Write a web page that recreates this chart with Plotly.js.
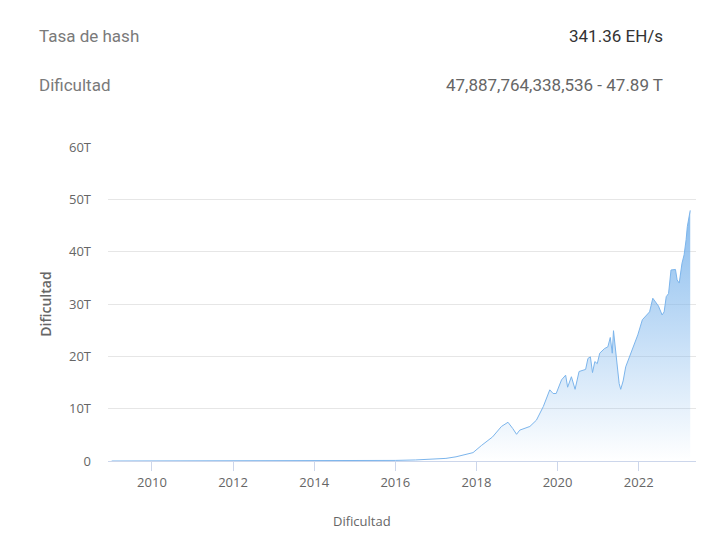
<!DOCTYPE html>
<html>
<head>
<meta charset="utf-8">
<script src="https://cdn.plot.ly/plotly-3.0.1.min.js"></script>
<style>
  html, body { margin: 0; padding: 0; background: #fff; }
  #chart { width: 722px; height: 550px; }
</style>
</head>
<body>
<div id="chart"></div>
<script>
// Bitcoin mining difficulty (trillions)
const dates = [
    '2009-01-03', '2011-01-01', '2012-01-01', '2013-06-01', '2014-01-01',
    '2014-07-01', '2015-01-01', '2015-07-01', '2016-01-01', '2016-07-01',
    '2017-01-01', '2017-04-01', '2017-07-01', '2017-10-01', '2017-12-01',
    '2018-02-17', '2018-05-26', '2018-08-14', '2018-10-12', '2018-11-24',
    '2018-12-28', '2019-01-26', '2019-04-27', '2019-06-25', '2019-08-26',
    '2019-10-23', '2019-11-22', '2019-12-20', '2020-02-06', '2020-03-14',
    '2020-04-01', '2020-05-05', '2020-06-07', '2020-07-13', '2020-08-19',
    '2020-09-10', '2020-10-01', '2020-10-23', '2020-11-11', '2020-12-02',
    '2020-12-24', '2021-01-15', '2021-02-28', '2021-03-29', '2021-04-20',
    '2021-05-08', '2021-05-19', '2021-06-13', '2021-07-09', '2021-07-23',
    '2021-08-14', '2021-09-06', '2021-10-12', '2021-11-25', '2021-12-24',
    '2022-02-03', '2022-03-07', '2022-04-09', '2022-05-08', '2022-06-06',
    '2022-06-28', '2022-07-31', '2022-08-18', '2022-09-06', '2022-09-27',
    '2022-10-19', '2022-11-28', '2022-12-13', '2023-01-01', '2023-01-26',
    '2023-02-14', '2023-03-04', '2023-03-15', '2023-04-10'
];
const difficultyT = [
    0, 0.00001, 0.000001, 0.00002, 0.0014,
    0.017, 0.04, 0.05, 0.11, 0.2,
    0.33, 0.5, 0.8, 1.2, 1.6,
    3.0, 4.6, 6.6, 7.4, 6.2,
    5.1, 5.9, 6.6, 7.8, 10.4,
    13.6, 12.9, 12.9, 15.5, 16.4,
    14.1, 16.1, 13.7, 17.1, 17.4,
    17.5, 19.6, 19.9, 16.9, 19.0,
    18.6, 20.6, 21.5, 21.8, 23.6,
    20.6, 24.9, 19.9, 14.8, 13.7,
    15.3, 18.0, 19.9, 22.5, 24.1,
    27.0, 27.7, 28.5, 31.1, 30.2,
    29.6, 27.9, 28.5, 31.4, 32.0,
    36.5, 36.6, 34.6, 34.0, 37.8,
    39.4, 42.3, 44.8, 47.89
];
const yTickVals = [0, 10, 20, 30, 40, 50, 60];
const yTickText = ['0', '10T', '20T', '30T', '40T', '50T', '60T'];
const xTickVals = ['2010-01-01', '2012-01-01', '2014-01-01', '2016-01-01',
                   '2018-01-01', '2020-01-01', '2022-01-01'];
const xTickText = ['2010', '2012', '2014', '2016', '2018', '2020', '2022'];

const headerLabels = ['Tasa de hash', 'Dificultad'];
const headerValues = ['341.36 EH/s', '47,887,764,338,536 - 47.89 T'];

const BLUE = '#7cb5ec';

const data = [{
    type: 'scatter',
    mode: 'lines',
    x: dates,
    y: difficultyT,
    line: { color: BLUE, width: 1 },
    fill: 'tozeroy',
    fillgradient: {
        type: 'vertical',
        start: 0,
        stop: 48,
        colorscale: [
            [0, 'rgba(124,181,236,0.0)'],
            [1, 'rgba(124,181,236,0.9)']
        ]
    },
    hoverinfo: 'x+y'
}];

// header rows drawn as annotations above the plot area
const annotations = [];
const rowY = [1.3535, 1.197];
headerLabels.forEach(function(label, i) {
    annotations.push({
        xref: 'paper', yref: 'paper', x: -0.12, y: rowY[i],
        xanchor: 'left', yanchor: 'middle', showarrow: false,
        text: label,
        font: { family: 'Roboto', size: 17, color: '#7a7a7a' }
    });
    annotations.push({
        xref: 'paper', yref: 'paper', x: 0.948, y: rowY[i],
        xanchor: 'right', yanchor: 'middle', showarrow: false,
        text: headerValues[i],
        font: { family: 'Roboto', size: 17, color: i === 0 ? '#333' : '#666' }
    });
});
annotations.push({
    xref: 'paper', yref: 'paper', x: 0.432, y: -0.19,
    xanchor: 'center', yanchor: 'middle', showarrow: false,
    text: 'Dificultad',
    font: { family: 'Open Sans', size: 13, color: '#666' }
});

const layout = {
    width: 722,
    height: 550,
    margin: { t: 147, r: 26, b: 89, l: 108 },
    paper_bgcolor: '#fff',
    plot_bgcolor: '#fff',
    showlegend: false,
    font: { family: 'Open Sans', color: '#666' },
    xaxis: {
        type: 'date',
        range: ['2008-12-01', '2023-06-01'],
        tickvals: xTickVals,
        ticktext: xTickText,
        ticks: 'outside',
        ticklen: 9,
        tickcolor: '#ccd6eb',
        showgrid: false,
        showline: true,
        linecolor: '#ccd6eb',
        tickfont: { family: 'Open Sans', size: 13, color: '#666' },
        zeroline: false
    },
    yaxis: {
        range: [0, 60],
        tickvals: yTickVals,
        ticktext: yTickText,
        showgrid: true,
        gridcolor: '#e6e6e6',
        zeroline: false,
        ticklabelstandoff: 16,
        tickfont: { family: 'Open Sans', size: 13, color: '#666' },
        title: {
            text: 'Dificultad',
            standoff: 14,
            font: { family: 'Open Sans', size: 14, color: '#666', weight: 600 }
        }
    },
    annotations: annotations
};

Plotly.newPlot('chart', data, layout, { displayModeBar: false, staticPlot: true });
</script>
</body>
</html>
